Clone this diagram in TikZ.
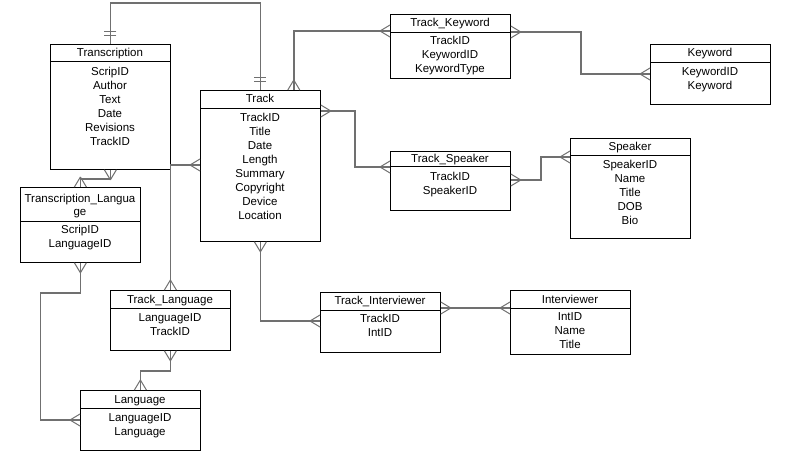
\documentclass[tikz,border=0pt]{standalone}
\usepackage{fontspec}
\setmainfont{Liberation Sans}
\usetikzlibrary{decorations.markings}
\definecolor{linkgray}{RGB}{112,112,112}
\tikzset{
  entity/.style={draw=black, line width=0.8pt, anchor=north west, inner sep=0pt, minimum width=120pt},
  title/.style={anchor=base, inner sep=0pt, font=\fontsize{11.5}{14}\selectfont},
  attrs/.style={anchor=north, inner sep=0pt, align=center, font=\fontsize{11.5}{14}\selectfont},
  many/.style={draw=linkgray, line width=1.8pt, postaction={decorate, decoration={markings,
      mark=at position 0 with {\draw[linkgray, line width=1pt] (10pt,0pt) -- (0pt,6pt) (10pt,0pt) -- (0pt,-6pt);},
      mark=at position 1 with {\draw[linkgray, line width=1pt] (-10pt,0pt) -- (0pt,6pt) (-10pt,0pt) -- (0pt,-6pt);}}}},
  onlyone/.style={draw=linkgray, line width=1.8pt, postaction={decorate, decoration={markings,
      mark=at position 0 with {\draw[linkgray, line width=1pt] (8pt,-6pt) -- (8pt,6pt) (12pt,-6pt) -- (12pt,6pt);},
      mark=at position 1 with {\draw[linkgray, line width=1pt] (-8pt,-6pt) -- (-8pt,6pt) (-12pt,-6pt) -- (-12pt,6pt);}}}}
}
\begin{document}
\begin{tikzpicture}[x=1pt, y=-1pt]
   \fill[white] (0,0) rectangle (792,470);
   \useasboundingbox (0,0) rectangle (792,470);

   \node[entity, minimum height=125pt] (transcription) at (50,44) {};
   \draw (50,61) -- (170,61);
   \node[title] (transcription-t) at (110,56.5) {Transcription};
   \node[attrs] (transcription-a) at (110,66.5) {ScripID\\Author\\Text\\Date\\Revisions\\TrackID};

   \node[entity, minimum height=151pt] (track) at (200,90) {};
   \draw (200,108) -- (320,108);
   \node[title] (track-t) at (260,103) {Track};
   \node[attrs] (track-a) at (260,112.5) {TrackID\\Title\\Date\\Length\\Summary\\Copyright\\Device\\Location};

   \node[entity, minimum height=64pt] (trackkw) at (390,14) {};
   \draw (390,32) -- (510,32);
   \node[title] (trackkw-t) at (450,27) {Track\_Keyword};
   \node[attrs] (trackkw-a) at (450,36) {TrackID\\KeywordID\\KeywordType};

   \node[entity, minimum height=60pt] (keyword) at (650,44) {};
   \draw (650,62) -- (770,62);
   \node[title] (keyword-t) at (710,57) {Keyword};
   \node[attrs] (keyword-a) at (710,67) {KeywordID\\Keyword};

   \node[entity, minimum height=59pt] (tspeaker) at (390,151) {};
   \draw (390,166) -- (510,166);
   \node[title] (tspeaker-t) at (450,163) {Track\_Speaker};
   \node[attrs] (tspeaker-a) at (450,172) {TrackID\\SpeakerID};

   \node[entity, minimum height=100pt] (speaker) at (570,138) {};
   \draw (570,155) -- (690,155);
   \node[title] (speaker-t) at (630,150.5) {Speaker};
   \node[attrs] (speaker-a) at (630,160) {SpeakerID\\Name\\Title\\DOB\\Bio};

   \node[entity, minimum height=75pt] (translang) at (20,187) {};
   \draw (20,221) -- (140,221);
   \node[attrs, font=\fontsize{11.5}{13}\selectfont] (translang-t) at (80,194) {Transcription\_Langua\\ge};
   \node[attrs] (translang-a) at (80,225) {ScripID\\LanguageID};

   \node[entity, minimum height=60pt] (tlang) at (110,290) {};
   \draw (110,308) -- (230,308);
   \node[title] (tlang-t) at (170,303) {Track\_Language};
   \node[attrs] (tlang-a) at (170,313) {LanguageID\\TrackID};

   \node[entity, minimum height=60pt] (lang) at (80,390) {};
   \draw (80,408) -- (200,408);
   \node[title] (lang-t) at (140,403) {Language};
   \node[attrs] (lang-a) at (140,413) {LanguageID\\Language};

   \node[entity, minimum height=60pt] (tinterviewer) at (320,292) {};
   \draw (320,310) -- (440,310);
   \node[title] (tinterviewer-t) at (380,305) {Track\_Interviewer};
   \node[attrs] (tinterviewer-a) at (380,314) {TrackID\\IntID};

   \node[entity, minimum height=64pt] (interviewer) at (510,290) {};
   \draw (510,308) -- (630,308);
   \node[title] (interviewer-t) at (570,303) {Interviewer};
   \node[attrs] (interviewer-a) at (570,312) {IntID\\Name\\Title};

   \draw[onlyone] (transcription.north) -- ++(0,-41) -| (track.north);
   \draw[many] ([xshift=-27pt]track.north east) |- ([yshift=-17pt]trackkw.north west);
   \draw[many] ([yshift=-18pt]trackkw.north east) -- ++(70,0) |- ([yshift=-30pt]keyword.north west);
   \draw[many] ([yshift=-21pt]track.north east) -- ++(34,0) |- ([yshift=-16pt]tspeaker.north west);
   \draw[many] ([yshift=-29pt]tspeaker.north east) -- ++(30,0) |- ([yshift=-19pt]speaker.north west);
   \draw[many] (transcription.south) -- ++(0,9) -| (translang.north);
   \draw[many] ([yshift=-75pt]track.north west) -| (tlang.north);
   \draw[many] (translang.south) -- ++(0,30) -- ++(-40,0) |- ([yshift=-30pt]lang.north west);
   \draw[many] (tlang.south) -- ++(0,20) -| (lang.north);
   \draw[many] (track.south) |- ([yshift=-29pt]tinterviewer.north west);
   \draw[many] ([yshift=-16pt]tinterviewer.north east) -- ([yshift=-18pt]interviewer.north west);
\end{tikzpicture}
\end{document}
